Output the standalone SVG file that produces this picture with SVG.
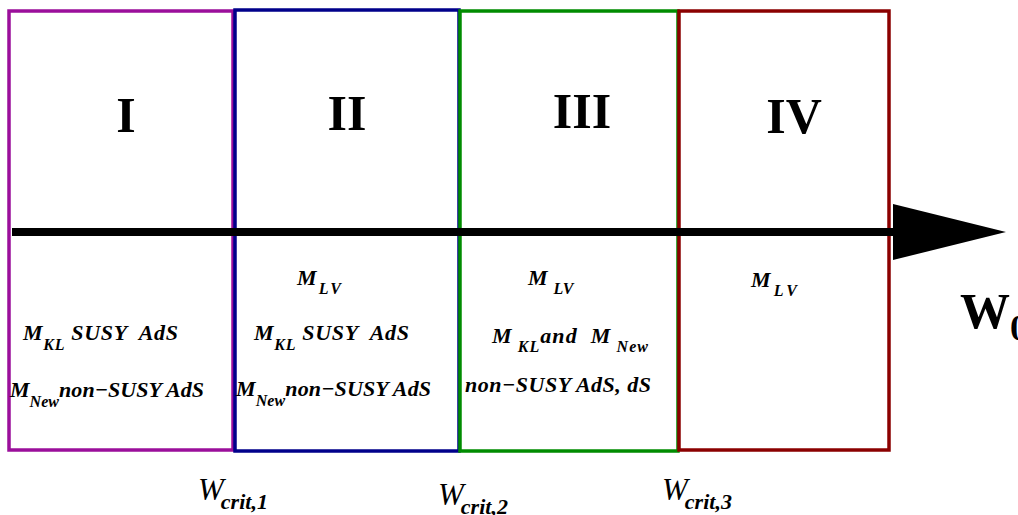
<svg xmlns="http://www.w3.org/2000/svg" width="1018" height="515" viewBox="0 0 1018 515">
<style>
.box{fill:none;stroke-width:3.5}
.num{font-family:"Liberation Serif",serif;font-weight:bold;font-size:50px;text-anchor:middle;fill:#000}
.lab{font-family:"Liberation Serif",serif;font-weight:bold;font-style:italic;font-size:22px;fill:#000;white-space:pre}
.sub{font-size:16px}
.w{font-family:"Liberation Serif",serif;font-style:italic;font-size:31px;fill:#000}
.ws{font-size:22px;font-weight:bold}
</style>
<rect width="1018" height="515" fill="#fff"/>
<g id="region1">
<rect class="box" x="9" y="11" width="224" height="439" stroke="#9b0f9b"/>
<text class="num" x="126" y="132">I</text>
<text class="lab" x="23" y="340" textLength="155" lengthAdjust="spacing">M<tspan class="sub" dy="10">KL</tspan><tspan dy="-10"> SUSY  AdS</tspan></text>
<text class="lab" x="10" y="397" textLength="194" lengthAdjust="spacing">M<tspan class="sub" dy="10">New</tspan><tspan dy="-10">non−SUSY AdS</tspan></text>
</g>
<g id="region2">
<rect class="box" x="235" y="10" width="224" height="441" stroke="#00008b"/>
<text class="num" x="347" y="130">II</text>
<text class="lab" x="297" y="285" textLength="44" lengthAdjust="spacing">M<tspan class="sub" dy="9">LV</tspan></text>
<text class="lab" x="254" y="340" textLength="155" lengthAdjust="spacing">M<tspan class="sub" dy="10">KL</tspan><tspan dy="-10"> SUSY  AdS</tspan></text>
<text class="lab" x="236" y="396" textLength="195" lengthAdjust="spacing">M<tspan class="sub" dy="10">New</tspan><tspan dy="-10">non−SUSY AdS</tspan></text>
</g>
<g id="region3">
<rect class="box" x="460" y="11" width="218" height="440" stroke="#008c00"/>
<text class="num" x="582" y="128">III</text>
<text class="lab" x="528" y="285">M<tspan class="sub" dx="6" dy="9">LV</tspan></text>
<text class="lab" x="492" y="343" textLength="156" lengthAdjust="spacing">M<tspan class="sub" dx="5" dy="9">KL</tspan><tspan dy="-9">and  M</tspan><tspan class="sub" dx="5" dy="9">New</tspan></text>
<text class="lab" x="465" y="392" textLength="186" lengthAdjust="spacing">non−SUSY AdS, dS</text>
</g>
<g id="region4">
<rect class="box" x="679" y="11" width="210" height="439" stroke="#8b0000"/>
<text class="num" x="794" y="133">IV</text>
<text class="lab" x="751" y="287" textLength="46" lengthAdjust="spacing">M<tspan class="sub" dy="9">LV</tspan></text>
</g>
<g id="connectors">
<line x1="12" y1="232" x2="896" y2="232" stroke="#000" stroke-width="8"/>
<polygon points="893,204 1006,232 893,260" fill="#000"/>
</g>
<g id="labels">
<text class="num" x="960" y="328" style="text-anchor:start">W<tspan font-size="36" dy="12">0</tspan></text>
<text class="w" x="198" y="500">W<tspan class="ws" dx="-3" dy="9">crit,1</tspan></text>
<text class="w" x="438" y="505">W<tspan class="ws" dx="-3" dy="9">crit,2</tspan></text>
<text class="w" x="662" y="500">W<tspan class="ws" dx="-3" dy="9">crit,3</tspan></text>
</g>
</svg>
